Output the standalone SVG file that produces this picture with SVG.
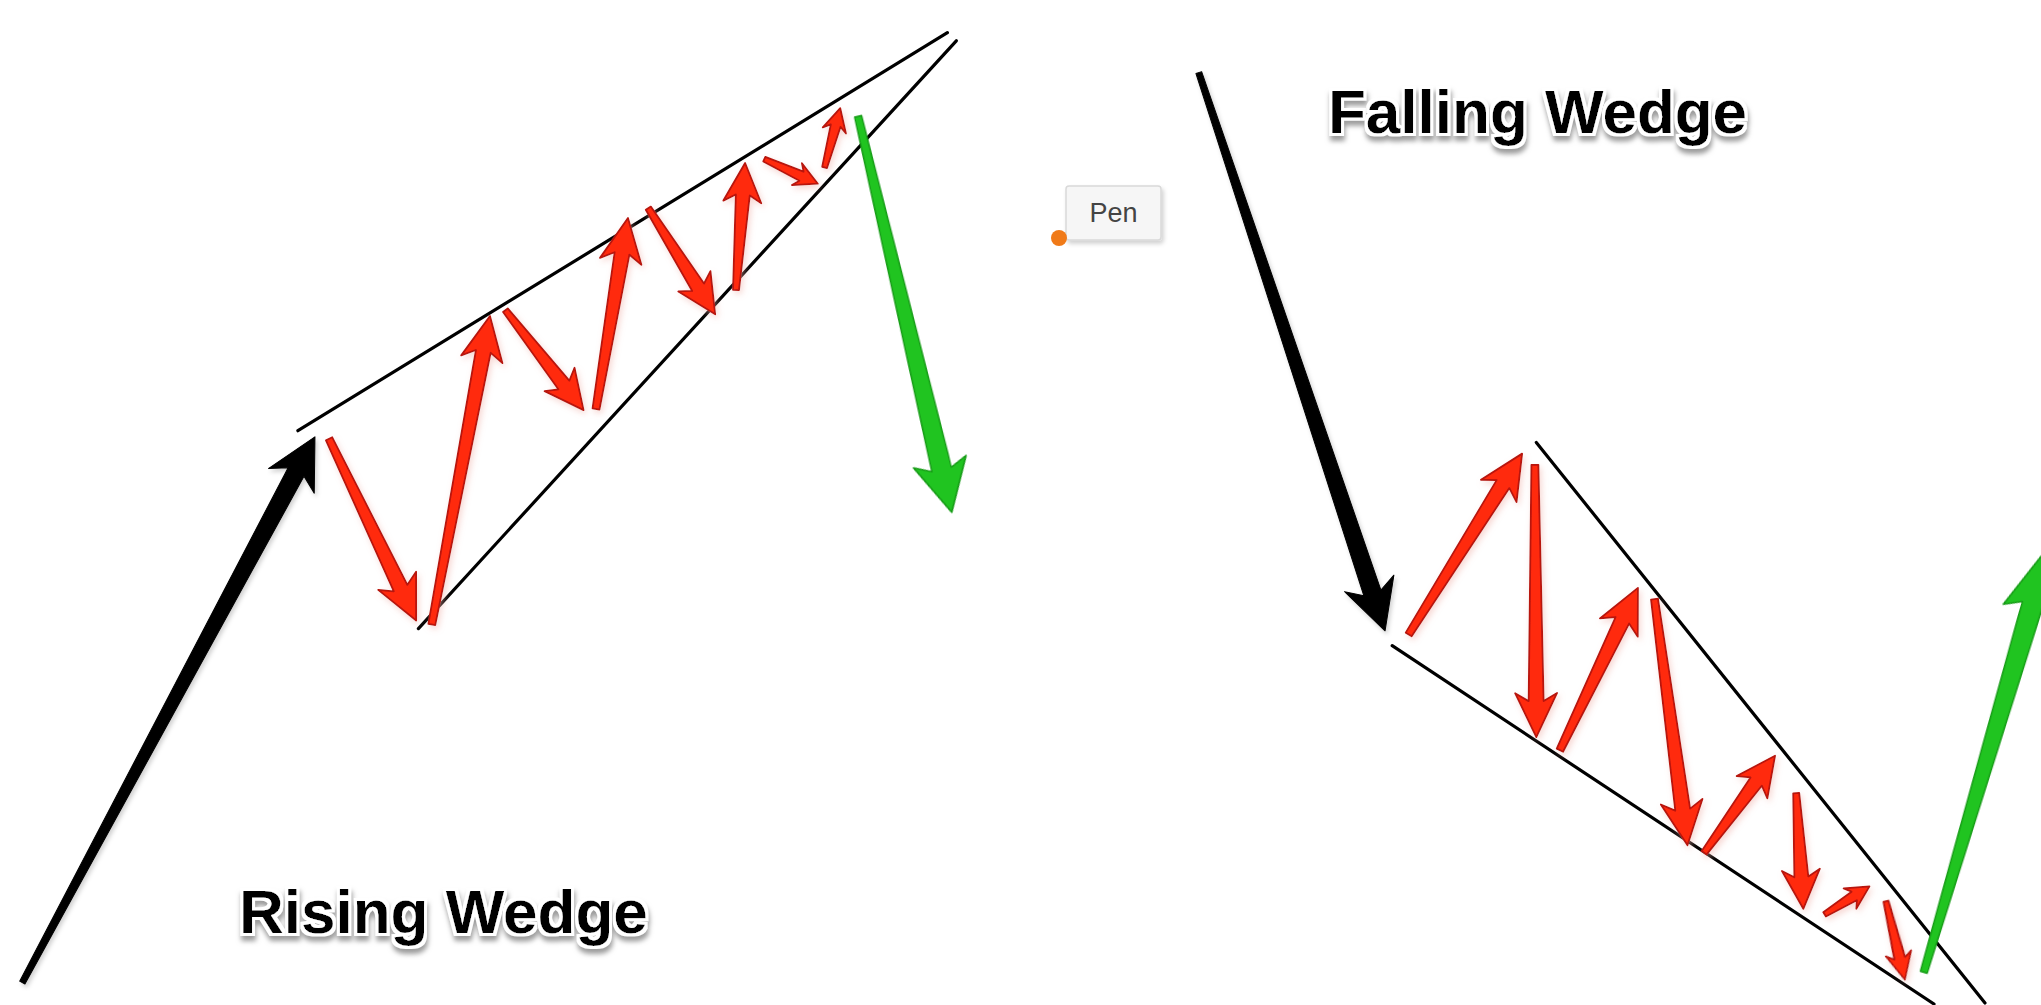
<svg xmlns="http://www.w3.org/2000/svg" width="2041" height="1005" viewBox="0 0 2041 1005">
<defs>
<style>
.trend{stroke:#000;stroke-width:3.2;fill:none;stroke-linecap:round}
.blk{fill:#000;stroke:#000;stroke-width:1;stroke-linejoin:round}
.red{fill:#ff2a0a;stroke:#b8140c;stroke-width:1.8;stroke-linejoin:round}
.grn{fill:#20c420;stroke:#179c17;stroke-width:1.6;stroke-linejoin:round}
.title{font-family:"Liberation Sans",Arial,sans-serif;font-weight:bold;font-size:62px;fill:#000}
.tip{font-family:"Liberation Sans",Arial,sans-serif;font-size:27px;fill:#444}
</style>
<filter id="ts" x="-10%" y="-30%" width="120%" height="170%">
<feMorphology in="SourceAlpha" operator="dilate" radius="3" result="d"/>
<feGaussianBlur in="d" stdDeviation="2.5" result="b"/>
<feOffset in="b" dx="1" dy="5" result="o"/>
<feFlood flood-color="#9c9c9c"/>
<feComposite in2="o" operator="in" result="sh"/>
<feFlood flood-color="#ffffff"/>
<feComposite in2="d" operator="in" result="wh"/>
<feMerge><feMergeNode in="sh"/><feMergeNode in="wh"/><feMergeNode in="SourceGraphic"/></feMerge>
</filter>
<filter id="as" x="-20%" y="-20%" width="140%" height="140%">
<feGaussianBlur in="SourceAlpha" stdDeviation="3" result="b"/>
<feOffset in="b" dx="2" dy="3" result="o"/>
<feFlood flood-color="#f0b0a8" flood-opacity="0.5"/>
<feComposite in2="o" operator="in" result="sh"/>
<feMerge><feMergeNode in="sh"/><feMergeNode in="SourceGraphic"/></feMerge>
</filter>
<filter id="bs" x="-20%" y="-20%" width="140%" height="140%">
<feGaussianBlur in="SourceAlpha" stdDeviation="2"/>
<feOffset dx="2" dy="3" result="o"/>
<feFlood flood-color="#000" flood-opacity="0.18"/>
<feComposite in2="o" operator="in" result="sh"/>
<feMerge><feMergeNode in="sh"/><feMergeNode in="SourceGraphic"/></feMerge>
</filter>
</defs>
<rect width="2041" height="1005" fill="#fff"/>

<g id="rising-wedge">
<g id="rising-trendlines">
<line class="trend" x1="297.9" y1="430.7" x2="947.4" y2="32.7"/>
<line class="trend" x1="418.4" y1="628.6" x2="956.3" y2="40.8"/>
</g>
<g id="rising-prior-trend" filter="url(#bs)">
<path class="blk" transform="translate(22.3,982.6) rotate(-61.8)" d="M0,-3 L579.3,-9 L569.3,-26 L619.3,0 L569.3,26 L579.3,9 L0,3Z"/>
</g>
<g id="rising-swings" filter="url(#as)">
<path class="red" transform="translate(329.1,438.8) rotate(64.4)" d="M0,-3.5 L165.5,-7.5 L157.5,-21 L201.5,0 L157.5,21 L165.5,7.5 L0,3.5Z"/>
<path class="red" transform="translate(431.8,624.5) rotate(-79.32)" d="M0,-3.5 L277.9,-7.5 L269.9,-21 L313.9,0 L269.9,21 L277.9,7.5 L0,3.5Z"/>
<path class="red" transform="translate(505.4,310.2) rotate(51.98)" d="M0,-3 L94.9,-7 L87.9,-19 L126.9,0 L87.9,19 L94.9,7 L0,3Z"/>
<path class="red" transform="translate(596,409) rotate(-80.5)" d="M0,-3.5 L157.7,-7.5 L149.7,-21 L193.7,0 L149.7,21 L157.7,7.5 L0,3.5Z"/>
<path class="red" transform="translate(648.3,208.2) rotate(57.77)" d="M0,-3 L93.4,-7 L86.4,-19 L125.4,0 L86.4,19 L93.4,7 L0,3Z"/>
<path class="red" transform="translate(736,290) rotate(-85.9)" d="M0,-3 L95.3,-7 L88.3,-19 L127.3,0 L88.3,19 L95.3,7 L0,3Z"/>
<path class="red" transform="translate(764.3,159.2) rotate(24.6)" d="M0,-2.5 L40.9,-5 L35.9,-12 L58.9,0 L35.9,12 L40.9,5 L0,2.5Z"/>
<path class="red" transform="translate(824.6,167.4) rotate(-75.2)" d="M0,-2.5 L43.2,-5 L38.2,-12 L61.2,0 L38.2,12 L43.2,5 L0,2.5Z"/>
</g>
<g id="rising-breakout">
<path class="grn" transform="translate(858.1,116.3) rotate(76.69)" d="M0,-3.5 L362.9,-10 L354.9,-27 L406.9,0 L354.9,27 L362.9,10 L0,3.5Z"/>
</g>
<g id="rising-label" filter="url(#ts)">
<text class="title" x="239" y="933">Rising Wedge</text>
</g>
</g>

<g id="falling-wedge">
<g id="falling-trendlines">
<line class="trend" x1="1536.3" y1="442.4" x2="1985" y2="1003"/>
<line class="trend" x1="1392.2" y1="645.7" x2="1934" y2="1004"/>
</g>
<g id="falling-prior-trend" filter="url(#bs)">
<path class="blk" transform="translate(1198.8,72.6) rotate(71.55)" d="M0,-3 L548.5,-9 L538.5,-26 L588.5,0 L538.5,26 L548.5,9 L0,3Z"/>
</g>
<g id="falling-swings" filter="url(#as)">
<path class="red" transform="translate(1408.7,634.5) rotate(-57.91)" d="M0,-3.5 L177.5,-7.5 L169.5,-21 L213.5,0 L169.5,21 L177.5,7.5 L0,3.5Z"/>
<path class="red" transform="translate(1534.9,464.8) rotate(89.7)" d="M0,-3.5 L236.3,-7.5 L228.3,-21 L272.3,0 L228.3,21 L236.3,7.5 L0,3.5Z"/>
<path class="red" transform="translate(1559.9,750.2) rotate(-64.33)" d="M0,-3.5 L144.1,-7.5 L136.1,-21 L180.1,0 L136.1,21 L144.1,7.5 L0,3.5Z"/>
<path class="red" transform="translate(1654.5,599.1) rotate(82.37)" d="M0,-3.5 L212.4,-7.5 L204.4,-21 L248.4,0 L204.4,21 L212.4,7.5 L0,3.5Z"/>
<path class="red" transform="translate(1704.1,852.8) rotate(-53.83)" d="M0,-3 L88.2,-7 L81.2,-19 L120.2,0 L81.2,19 L88.2,7 L0,3Z"/>
<path class="red" transform="translate(1796.2,793.1) rotate(86.49)" d="M0,-3 L83.9,-7 L76.9,-19 L115.9,0 L76.9,19 L83.9,7 L0,3Z"/>
<path class="red" transform="translate(1824.6,914.4) rotate(-31.95)" d="M0,-2.5 L34.9,-5 L29.9,-12 L52.9,0 L29.9,12 L34.9,5 L0,2.5Z"/>
<path class="red" transform="translate(1886,901.3) rotate(76.45)" d="M0,-2.5 L58.6,-5.5 L53.6,-13 L80.6,0 L53.6,13 L58.6,5.5 L0,2.5Z"/>
</g>
<g id="falling-breakout">
<path class="grn" transform="translate(1923.8,972.2) rotate(-73.54)" d="M0,-3.5 L383.4,-10.5 L375.4,-28 L445.4,0 L375.4,28 L383.4,10.5 L0,3.5Z"/>
</g>
<g id="falling-label" filter="url(#ts)">
<text class="title" x="1328" y="133">Falling Wedge</text>
</g>
</g>

<g id="pen-tooltip">
<rect x="1066" y="186" width="95" height="54" rx="3" fill="#f6f6f6" stroke="#d9d9d9" stroke-width="1.5" filter="url(#bs)"/>
<text class="tip" x="1113.5" y="222" text-anchor="middle">Pen</text>
<circle cx="1059" cy="238" r="8" fill="#f07a18"/>
</g>
</svg>
